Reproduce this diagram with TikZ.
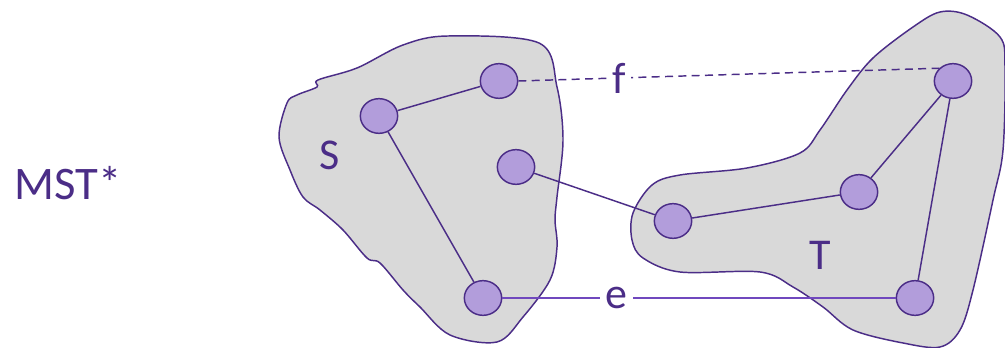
\documentclass[tikz,border=0pt]{standalone}
\usepackage{fontspec}
\setmainfont{Carlito}
\usepackage{xcolor}
\usetikzlibrary{shapes.geometric}

\definecolor{mstpurple}{RGB}{75,45,135}
\definecolor{mstlight}{RGB}{112,72,190}
\definecolor{mstnode}{RGB}{178,157,219}
\definecolor{mstgrey}{RGB}{217,217,217}

\begin{document}
\begin{tikzpicture}[x=0.75pt,y=-0.75pt,
    vert/.style={ellipse,draw=mstpurple,fill=mstnode,line width=1.1pt,minimum width=28pt,minimum height=26pt,inner sep=0pt},
    blob/.style={draw=mstpurple,fill=mstgrey,line width=1.1pt},
    edge/.style={mstpurple,line width=1.1pt},
    lbl/.style={text=mstpurple,font=\fontsize{33}{33}\selectfont}]
  \useasboundingbox (0,0) rectangle (1005,348);

  % the two cuts
  \draw[blob] plot[smooth cycle,tension=0.55] coordinates {(448,36) (539,43) (557,87) (563,140) (557,197) (555,220) (557,247) (550,280) (523,317) (497,342) (450,335) (420,307) (403,290) (380,263) (367,258) (343,230) (320,210) (303,197) (290,170) (279,137) (287,103) (297,95) (317,87) (318,80) (357,68) (403,45)};
  \draw[blob] plot[smooth cycle,tension=0.55] coordinates {(940,12) (967,15) (1000,37) (1005,67) (1003,150) (993,200) (973,290) (960,330) (940,347) (903,343) (853,330) (823,307) (793,287) (760,272) (680,272) (643,258) (632,240) (633,213) (652,185) (680,175) (747,168) (800,153) (820,130) (847,90) (873,58) (913,27)};

  \node[lbl,font=\fontsize{35}{35}\selectfont] (mst) at (68,183) {MST*};
  \node[lbl] (sname) at (330,155) {S};
  \node[lbl] (tname) at (820,255) {T};

  \node[vert] (s1) at (499,81) {};
  \node[vert] (s2) at (379,116) {};
  \node[vert] (s3) at (516,167) {};
  \node[vert] (s4) at (483,298) {};
  \node[vert] (t1) at (953,81) {};
  \node[vert] (t2) at (859,192) {};
  \node[vert] (t3) at (673,221) {};
  \node[vert] (t4) at (915,298) {};

  \draw[edge] (s1)--(s2);
  \draw[edge] (s2)--(s4);
  \draw[edge] (s3)--(t3);
  \draw[edge] (t3)--(t2);
  \draw[edge] (t2)--(t1);
  \draw[edge] (t1)--(t4);
  \draw[edge,dash pattern=on 6pt off 4pt] (s1.east) -- node[pos=0.24,lbl,fill=white,inner sep=4pt] (f) {f} (t1.north west);
  \draw[edge,mstlight] (s4) -- node[pos=0.29,lbl,fill=white,inner sep=4pt] (e) {e} (t4);
\end{tikzpicture}
\end{document}
